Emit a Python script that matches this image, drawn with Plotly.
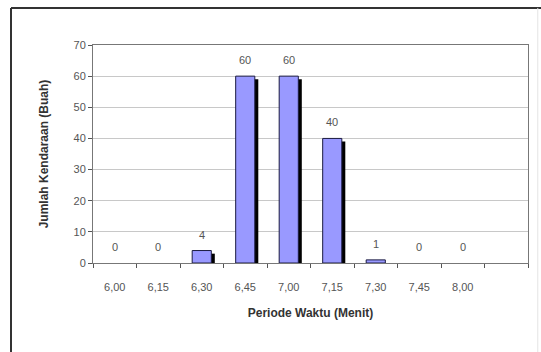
import plotly.graph_objects as go

categories = ["6,00", "6,15", "6,30", "6,45", "7,00", "7,15", "7,30", "7,45", "8,00", " "]
values = [0, 0, 4, 60, 60, 40, 1, 0, 0, None]
labels = ["0", "0", "4", "60", "60", "40", "1", "0", "0", ""]
y_ticks = [0, 10, 20, 30, 40, 50, 60, 70]

shadow_depth = 1.0
bar_vals = [v if v else None for v in values]
shadow_vals = [max(v - shadow_depth, 0.0) if v else None for v in values]

FONT = "Liberation Sans, Arial"

fig = go.Figure()
fig.add_trace(go.Bar(
    x=categories, y=shadow_vals, width=0.44, offset=-0.14,
    marker=dict(color="#000000", line=dict(width=0)),
    hoverinfo="skip", showlegend=False,
))
fig.add_trace(go.Bar(
    x=categories, y=bar_vals, width=0.44, offset=-0.22,
    marker=dict(color="#9999FF", line=dict(color="#1a1a40", width=1)),
    showlegend=False,
))

annotations = []
for c, v, t in zip(categories, values, labels):
    if v is None:
        continue
    annotations.append(dict(
        x=c, y=v, xref="x", yref="y", text=t, showarrow=False,
        yanchor="bottom", yshift=8,
        font=dict(family=FONT, size=11, color="#555555"),
    ))

fig.update_layout(
    width=541, height=352,
    margin=dict(l=93, r=13, t=45, b=89),
    paper_bgcolor="white", plot_bgcolor="white",
    barmode="overlay",
    font=dict(family=FONT, size=11, color="#555555"),
    annotations=annotations,
    xaxis=dict(
        type="category", categoryorder="array", categoryarray=categories,
        range=[-0.5, 9.5], tickson="boundaries", ticks="outside", ticklen=4,
        tickcolor="#555555", showline=True, linecolor="#777777", linewidth=1,
        mirror=True, showgrid=False, ticklabelstandoff=14,
        tickfont=dict(size=11, color="#555555"),
        title=dict(text="<b>Periode Waktu (Menit)</b>", standoff=16,
                   font=dict(size=12, color="#333333", family=FONT)),
    ),
    yaxis=dict(
        range=[0, 70], tickvals=y_ticks, ticks="outside", ticklen=4,
        tickcolor="#555555", showline=True, linecolor="#777777", linewidth=1,
        mirror=True, showgrid=True, gridcolor="#c8c8c8", gridwidth=1,
        zeroline=False, ticksuffix="   ",
        tickfont=dict(size=11, color="#555555"),
        title=dict(text="<b>Jumlah Kendaraan (Buah)</b>", standoff=22,
                   font=dict(size=12, color="#333333", family=FONT)),
    ),
    shapes=[
        dict(type="line", xref="paper", yref="paper", x0=-0.1885, x1=1.03, y0=1.17, y1=1.17,
             line=dict(color="#333333", width=2)),
        dict(type="line", xref="paper", yref="paper", x0=-0.1885, x1=-0.1885, y0=1.17, y1=-0.45,
             line=dict(color="#333333", width=2)),
        dict(type="line", xref="paper", yref="paper", x0=1.0225, x1=1.0225, y0=1.17, y1=-0.45,
             line=dict(color="#e4e4e4", width=1)),
    ],
)

fig.write_html("out.html", config={"displayModeBar": False},
               post_script="document.body.style.margin='0';")
